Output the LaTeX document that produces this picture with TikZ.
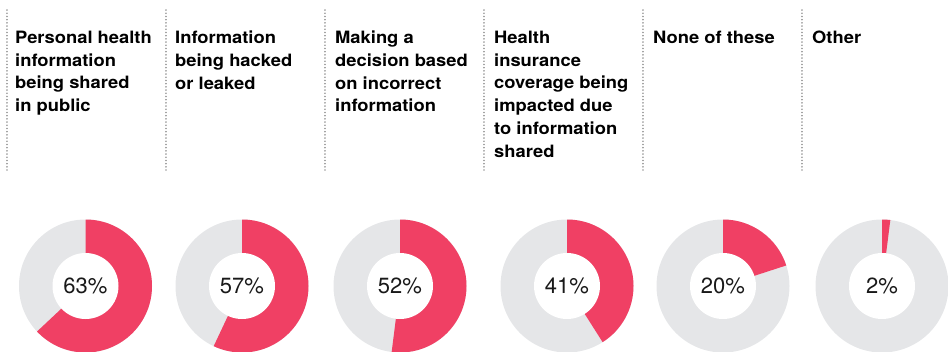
\documentclass[tikz,border=0pt]{standalone}
\usepackage{fontspec}
\setmainfont{TeX Gyre Heros}
\newfontfamily\headfont[FakeStretch=1.08]{TeX Gyre Heros}
\definecolor{donutred}{HTML}{F04064}
\definecolor{donutgray}{HTML}{E5E6E8}
\definecolor{divgray}{HTML}{9A9A9A}
\tikzset{
  head/.style={anchor=north west, inner sep=0pt, align=left, font=\headfont\fontsize{17}{22.7}\selectfont\bfseries, text=black},
  pct/.style={inner sep=0pt, font=\fontsize{22}{24}\selectfont, text=black!90},
  divider/.style={draw=divgray, line width=1.6pt, dash pattern=on 0.1pt off 3.1pt, line cap=round},
}
\begin{document}
\begin{tikzpicture}[x=1pt,y=1pt]
\useasboundingbox (0,0) rectangle (948,-351);
\clip (0,0) rectangle (948,-351);
% dividers
\foreach \i/\x in {1/7,2/166,3/325,4/484,5/643,6/802}{
  \coordinate (dt\i) at (\x,-10);
  \coordinate (db\i) at (\x,-170);
  \draw[divider] (dt\i) -- (db\i);
}
% headers
\node[head] (h1) at (15,-31) {Personal health\\information\\being shared\\in public};
\node[head] (h2) at (175,-31) {Information\\being hacked\\or leaked};
\node[head] (h3) at (335,-31) {Making a\\decision based\\on incorrect\\information};
\node[head] (h4) at (494,-31) {Health\\insurance\\coverage being\\impacted due\\to information\\shared};
\node[head] (h5) at (653,-31) {None of these};
\node[head] (h6) at (812,-31) {Other};
% donuts
\foreach \i/\x/\p in {1/85.5/63,2/242/57,3/400/52,4/567/41,5/723/20,6/882/2}{
  \coordinate (c\i) at (\x,-286);
  \fill[donutgray] (c\i) circle[radius=66.5];
  \fill[donutred] (c\i) -- ++(90:66.5) arc[start angle=90, end angle={90-3.6*\p}, radius=66.5] -- cycle;
  \fill[white] (c\i) circle[radius=33];
  \node[pct] (p\i) at (c\i) {\p\%};
}
\end{tikzpicture}
\end{document}
